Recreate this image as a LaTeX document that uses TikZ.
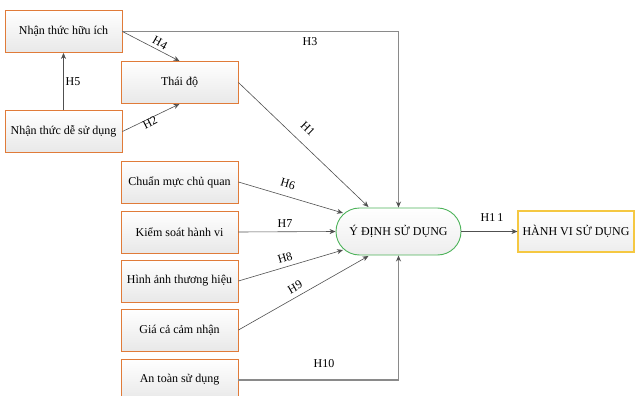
\documentclass[tikz,border=0pt]{standalone}
\usepackage{fontspec}
\setmainfont{Liberation Serif}
\usetikzlibrary{arrows.meta,shapes.misc,calc}
\definecolor{boxorange}{HTML}{E07B39}
\definecolor{boxgreen}{HTML}{4DB35A}
\definecolor{boxyellow}{HTML}{F5C842}
\definecolor{linegray}{HTML}{505050}
\definecolor{lightline}{HTML}{8A8A8A}
\begin{document}
\begin{tikzpicture}[x=1pt,y=-1pt,
  box/.style={draw=boxorange, line width=0.9pt, top color=white, bottom color=black!9,
    minimum width=117pt, minimum height=42pt, inner sep=0pt,
    font=\fontsize{12}{14}\selectfont},
  pill/.style={rounded rectangle, draw=boxgreen, line width=0.9pt, top color=white, bottom color=black!7,
    minimum width=125pt, minimum height=47pt, inner sep=0pt,
    font=\fontsize{12}{14}\selectfont},
  goal/.style={draw=boxyellow, line width=1.1pt, top color=white, bottom color=black!7,
    minimum width=116pt, minimum height=41pt, inner sep=0pt,
    font=\fontsize{12}{14}\selectfont},
  conn/.style={draw=linegray, line width=0.6pt, -{Stealth[length=6pt,width=5pt]}},
  thick conn/.style={draw=lightline, line width=1.3pt, -{Stealth[length=6pt,width=5pt,color=linegray]}},
  lbl/.style={font=\fontsize{12}{14}\selectfont, inner sep=0pt}]
\useasboundingbox (0,0) rectangle (635,396);
\clip (0,0) rectangle (635,396);

\node[box] (nhi) at (63.5,31.5) {Nhận thức hữu ích};
\node[box] (thaido) at (179.5,82.5) {Thái độ};
\node[box] (dsd) at (63.5,131.5) {Nhận thức dễ sử dụng};
\node[box] (cmcq) at (179.5,182) {Chuẩn mực chủ quan};
\node[box] (kshv) at (179.5,232) {Kiểm soát hành vi};
\node[box] (hath) at (179.5,281) {Hình ảnh thương hiệu};
\node[box] (gccn) at (179.5,330) {Giá cả cảm nhận};
\node[box] (atsd) at (179.5,380) {An toàn sử dụng};
\node[pill] (ydinh) at (398.5,231.5) {Ý ĐỊNH SỬ DỤNG};
\node[goal] (hanhvi) at (576,231.5) {HÀNH VI SỬ DỤNG};

\draw[thick conn] (nhi.east) -| (ydinh.north);
\node[lbl] (h3) at (310,42) {H3};

\draw[conn] (nhi.east) -- (thaido.north);
\node[lbl, rotate=-29] (h4) at (160,43) {H4};

\draw[conn] (dsd.north) -- (nhi.south);
\node[lbl] (h5) at (73,82) {H5};

\draw[conn] (dsd.east) -- (thaido.south);
\node[lbl, rotate=27] (h2) at (150,123) {H2};

\draw[conn] (thaido.east) -- ($(ydinh.center)+(-30,-24.5)$);
\node[lbl, rotate=-44] (h1) at (308,129) {H1};

\draw[conn] (cmcq.east) -- ($(ydinh.center)+(-55.5,-18.5)$);
\node[lbl, rotate=-16] (h6) at (288,184) {H6};

\draw[conn] (kshv.east) -- (ydinh.west);
\node[lbl] (h7) at (285,224) {H7};

\draw[conn] (hath.east) -- ($(ydinh.center)+(-55.5,18.5)$);
\node[lbl, rotate=16] (h8) at (285,258) {H8};

\draw[conn] (gccn.east) -- ($(ydinh.center)+(-30,24.5)$);
\node[lbl, rotate=30] (h9) at (295,287) {H9};

\draw[thick conn] (atsd.east) -| (ydinh.south);
\node[lbl] (h10) at (324,364) {H10};

\draw[conn] (ydinh.east) -- (hanhvi.west);
\node[lbl] (h11) at (492,218) {H1\,1};
\end{tikzpicture}
\end{document}
